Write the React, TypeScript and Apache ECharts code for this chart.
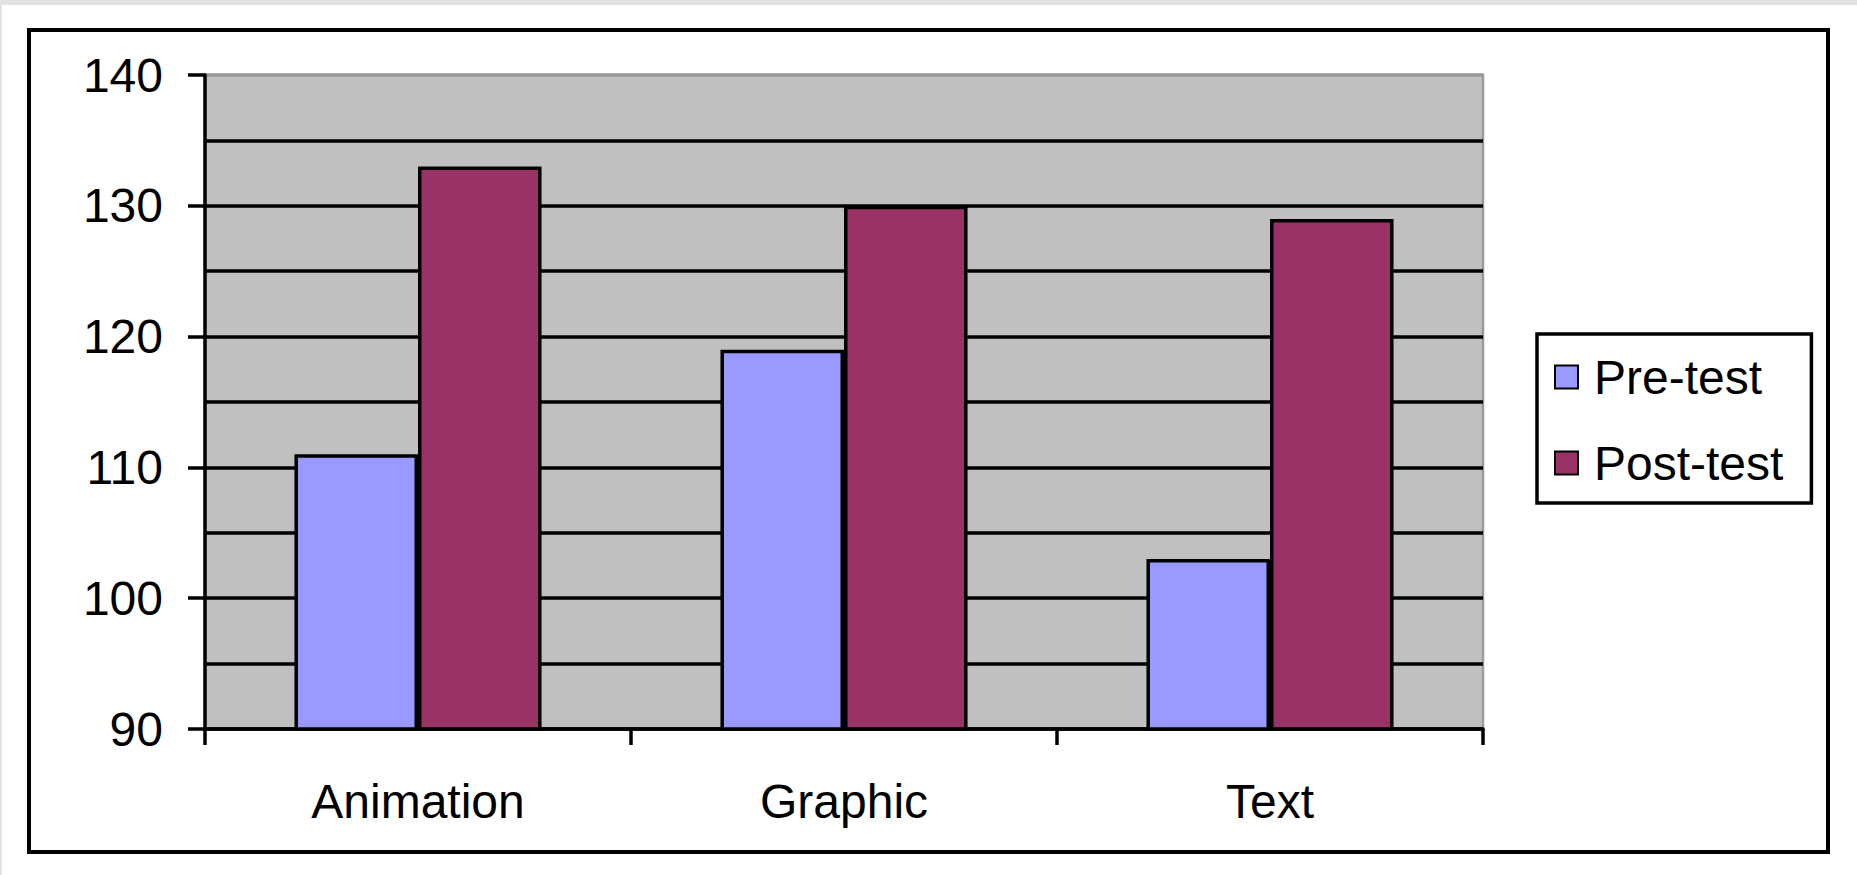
import React, { useEffect, useRef } from "react";
import * as echarts from "echarts";

// Scores by presentation mode
const categories = ["Animation", "Graphic", "Text"];
const preTest = [111, 119, 103];
const postTest = [133, 130, 129];
const seriesNames = ["Pre-test", "Post-test"];

const Y_MIN = 90;
const Y_MAX = 140;

const FONT = "'Liberation Sans', Arial, sans-serif";

export default function App() {
  const ref = useRef<HTMLDivElement>(null);

  useEffect(() => {
    if (!ref.current) return;
    const chart = echarts.init(ref.current, undefined, { renderer: "svg" });

    chart.setOption({
      animation: false,
      backgroundColor: "#ffffff",
      textStyle: { fontFamily: FONT },
      graphic: [
        // thin grey frame along the top and left page edges
        { type: "rect", shape: { x: 0, y: 0, width: 1857, height: 5 }, style: { fill: "#e2e2e2" }, silent: true },
        { type: "rect", shape: { x: 0, y: 0, width: 2, height: 875 }, style: { fill: "#e2e2e2" }, silent: true },
        // chart border
        {
          type: "rect",
          shape: { x: 29, y: 30, width: 1799, height: 822 },
          style: { fill: "none", stroke: "#000", lineWidth: 4 },
          silent: true,
        },
      ],
      grid: {
        left: 205,
        right: 374,
        top: 75,
        bottom: 146,
        show: true,
        backgroundColor: "#c0c0c0",
        borderColor: "#9a9a9a",
        borderWidth: 2.5,
      },
      legend: {
        orient: "vertical",
        left: 1537,
        top: 334,
        padding: [19, 28, 16, 17],
        itemGap: 38,
        itemWidth: 23,
        itemHeight: 23,
        icon: "rect",
        borderColor: "#000",
        borderWidth: 3.5,
        backgroundColor: "#fff",
        textStyle: {
          fontFamily: FONT,
          fontSize: 48,
          lineHeight: 48,
          color: "#000",
          padding: [0, 0, 0, 11],
        },
        data: seriesNames,
      },
      xAxis: {
        type: "category",
        data: categories,
        boundaryGap: true,
        axisLine: { show: true, lineStyle: { color: "#000", width: 3.5 } },
        axisTick: { show: true, length: 16, lineStyle: { color: "#000", width: 3.5 } },
        axisLabel: {
          color: "#000",
          fontFamily: FONT,
          fontSize: 48,
          margin: 48,
        },
        splitLine: { show: false },
      },
      yAxis: {
        type: "value",
        min: Y_MIN,
        max: Y_MAX,
        interval: 10,
        axisLine: { show: true, lineStyle: { color: "#000", width: 3.5 } },
        axisTick: { show: true, length: 17, lineStyle: { color: "#000", width: 3.5 } },
        axisLabel: {
          color: "#000",
          fontFamily: FONT,
          fontSize: 48,
          margin: 42,
        },
        splitLine: {
          show: true,
          lineStyle: {
            color: ["#000", "#000", "#000", "#000", "#000", "#9a9a9a"],
            width: 3.5,
          },
        },
        minorTick: { show: false, splitNumber: 2 },
        minorSplitLine: { show: true, lineStyle: { color: "#000", width: 3.5 } },
      },
      series: [
        {
          name: seriesNames[0],
          type: "bar",
          data: preTest,
          barGap: "0%",
          barCategoryGap: "42%",
          itemStyle: { color: "#9999ff", borderColor: "#000", borderWidth: 3.5 },
        },
        {
          name: seriesNames[1],
          type: "bar",
          data: postTest,
          barGap: "0%",
          barCategoryGap: "42%",
          itemStyle: { color: "#993366", borderColor: "#000", borderWidth: 3.5 },
        },
      ],
    });

    return () => chart.dispose();
  }, []);

  return (
    <div
      ref={ref}
      style={{ position: "absolute", left: 0, top: 0, width: 1857, height: 875 }}
    />
  );
}
